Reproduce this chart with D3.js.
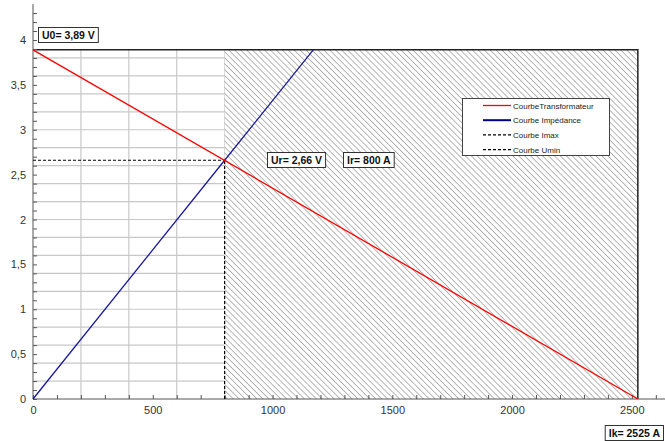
<!DOCTYPE html>
<html>
<head>
<meta charset="utf-8">
<script src="https://cdn.jsdelivr.net/npm/d3@7"></script>
<style>
  body { margin: 0; background: #fff; }
  svg { display: block; font-family: "Liberation Sans", Arial, sans-serif; }
</style>
</head>
<body>
<div class="chart"></div>
<script>
// values
var u0 = 3.89;      // V
var ik = 2525;      // A
var ir = 800;       // A (Imax)
var ur = 2.66;      // V (Umin)

var transfo = [[0, u0], [ik, 0]];
var impedance = [[0, 0], [ir, ur], [u0 * ir / ur, u0]];
var imaxLine = [[ir, 0], [ir, ur]];
var uminLine = [[0, ur], [ir, ur]];

var xTicks = [0, 500, 1000, 1500, 2000, 2500];
var yTicks = [0, 0.5, 1, 1.5, 2, 2.5, 3, 3.5, 4];

var legendNames = ["CourbeTransformateur", "Courbe Impédance", "Courbe Imax", "Courbe Umin"];
var legendColors = ["#ff0000", "#000080", "#000", "#000"];
var legendDash = [null, null, "3,2", "3,2"];

function init() {
    var w = 665, h = 441;
    var x = d3.scaleLinear().domain([0, 2630]).range([33, 663]);
    var y = d3.scaleLinear().domain([0, 4.4]).range([399, 4.1]);

    var svg = d3.select(".chart").append("svg")
        .attr("width", w).attr("height", h);

    var defs = svg.append("defs");
    var pat = defs.append("pattern")
        .attr("id", "hatch")
        .attr("patternUnits", "userSpaceOnUse")
        .attr("width", 4.2).attr("height", 4.2)
        .attr("patternTransform", "rotate(-45)");
    pat.append("rect").attr("width", 4.2).attr("height", 4.2).attr("fill", "#fff");
    pat.append("line")
        .attr("x1", 0).attr("y1", 0).attr("x2", 0).attr("y2", 4.2)
        .attr("stroke", "#9a9a9a").attr("stroke-width", 1.4);

    // grid inside the operating area
    var grid = svg.append("g").attr("stroke", "#c8c8c8").attr("stroke-width", 1.2);
    d3.range(200, ik, 200).forEach(function(v) {
        grid.append("line")
            .attr("x1", x(v)).attr("x2", x(v))
            .attr("y1", y(0)).attr("y2", y(u0));
    });
    d3.range(1, 20).forEach(function(i) {
        var v = i * 0.2;
        grid.append("line")
            .attr("x1", x(0)).attr("x2", x(ik))
            .attr("y1", y(v)).attr("y2", y(v));
    });

    // hatched zone
    svg.append("rect")
        .attr("x", x(ir)).attr("y", y(u0))
        .attr("width", x(ik) - x(ir)).attr("height", y(0) - y(u0))
        .attr("fill", "url(#hatch)");

    // borders U0 / Ik
    svg.append("path")
        .attr("d", "M" + x(0) + "," + y(u0) + "H" + x(ik) + "V" + y(0))
        .attr("fill", "none").attr("stroke", "#222").attr("stroke-width", 1.5);

    // axes
    var xAxis = svg.append("g").attr("transform", "translate(0," + y(0) + ")");
    xAxis.call(d3.axisBottom(x).tickValues(d3.range(0, 2700, 100)).tickSize(4).tickFormat(""));
    xAxis.call(function(g) {
        g.selectAll(".tick line").attr("y2", -4).attr("stroke", "#555");
        g.select(".domain").attr("stroke", "#555").attr("d", "M" + x(0) + ",0H665");
    });
    var xLab = svg.append("g").attr("transform", "translate(0," + y(0) + ")")
        .call(d3.axisBottom(x).tickValues(xTicks).tickSize(0).tickPadding(7).tickFormat(d3.format("d")));
    xLab.select(".domain").remove();
    xLab.selectAll("text").attr("font-size", 11).attr("fill", "#333")
        .attr("font-family", "Liberation Sans, Arial, sans-serif");

    var yAxis = svg.append("g").attr("transform", "translate(" + x(0) + ",0)");
    yAxis.call(d3.axisLeft(y).tickValues(d3.range(0, 44).map(function(i) { return i / 10; })).tickSize(0).tickFormat(""));
    yAxis.selectAll(".tick line").attr("x2", 4).attr("stroke", "#555");
    yAxis.select(".domain").attr("stroke", "#555").attr("d", "M0," + y(4.4) + "V" + y(0));
    var yLab = svg.append("g").attr("transform", "translate(" + x(0) + ",0)")
        .call(d3.axisLeft(y).tickValues(yTicks).tickSize(0).tickPadding(7)
            .tickFormat(function(d) { return String(d).replace(".", ","); }));
    yLab.select(".domain").remove();
    yLab.selectAll("text").attr("font-size", 11).attr("fill", "#333")
        .attr("font-family", "Liberation Sans, Arial, sans-serif");

    // curves
    var line = d3.line().x(function(d) { return x(d[0]); }).y(function(d) { return y(d[1]); });
    svg.append("path").datum(imaxLine).attr("d", line)
        .attr("fill", "none").attr("stroke", "#000").attr("stroke-width", 1.2).attr("stroke-dasharray", "3,2");
    svg.append("path").datum(uminLine).attr("d", line)
        .attr("fill", "none").attr("stroke", "#000").attr("stroke-width", 1.2).attr("stroke-dasharray", "3,2");
    svg.append("path").datum(impedance).attr("d", line)
        .attr("fill", "none").attr("stroke", "#1a1aa0").attr("stroke-width", 1.3);
    svg.append("path").datum(transfo).attr("d", line)
        .attr("fill", "none").attr("stroke", "#ff0000").attr("stroke-width", 1.3);

    // labels in boxes
    function box(px, py, txt, alignRight) {
        var g = svg.append("g");
        var t = g.append("text").text(txt)
            .attr("x", 4).attr("y", 11.5)
            .attr("font-size", 10.5).attr("font-weight", "bold").attr("fill", "#111");
        var bw = t.node().getComputedTextLength() + 7;
        g.insert("rect", "text")
            .attr("x", 0.5).attr("y", 0.5).attr("width", bw).attr("height", 15)
            .attr("fill", "#fff").attr("stroke", "#333");
        if (alignRight) px = px - bw - 1;
        g.attr("transform", "translate(" + px + "," + py + ")");
    }
    box(38, 27, "U0= 3,89 V");
    box(267, 152, "Ur= 2,66 V");
    box(343, 152, "Ir= 800 A");
    box(664, 425, "Ik= 2525 A", true);

    // legend
    var lg = svg.append("g").attr("transform", "translate(462,98)");
    lg.append("rect").attr("x", 0.5).attr("y", 0.5).attr("width", 147).attr("height", 57)
        .attr("fill", "#fff").attr("stroke", "#444");
    legendNames.forEach(function(name, i) {
        var yy = 7.5 + i * 14.7;
        lg.append("line").attr("x1", 21).attr("x2", 49).attr("y1", yy).attr("y2", yy)
            .attr("stroke", legendColors[i]).attr("stroke-width", i < 2 ? (i == 1 ? 2 : 1.3) : 1.2)
            .attr("stroke-dasharray", legendDash[i]);
        lg.append("text").text(name).attr("x", 51).attr("y", yy + 3)
            .attr("font-size", 8).attr("fill", "#222");
    });
}

init();
</script>
</body>
</html>
